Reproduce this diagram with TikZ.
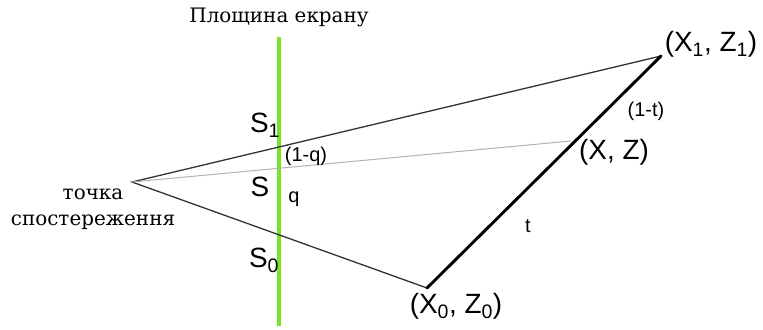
\documentclass[tikz,border=0pt]{standalone}
\usepackage{fontspec}
\setmainfont{DejaVu Serif}
\newfontfamily\labelfont{Liberation Sans}
\usepackage{tikz}
\usetikzlibrary{calc}

\definecolor{screengreen}{RGB}{122,226,40}

\begin{document}
\begin{tikzpicture}[
    x=1bp, y=-1bp,
    edge/.style={draw=black!80, line width=1.3bp},
    ray/.style={draw=black!30, line width=1bp},
    segment/.style={draw=black, line width=2.9bp},
    screen/.style={draw=screengreen, line width=3.6bp},
    lab/.style={font=\labelfont\fontsize{28}{30}\selectfont, inner sep=0pt},
    small/.style={font=\labelfont\fontsize{20}{22}\selectfont, inner sep=0pt},
    rus/.style={font=\fontsize{20}{26}\selectfont, inner sep=0pt, align=center}
]
\useasboundingbox (0,0) rectangle (763,329);

% points
\coordinate (eye) at (132,182);
\coordinate (p1) at (661,56);
\coordinate (p0) at (427,288);
\coordinate (p) at (571,141);
\coordinate (top) at (279,37);
\coordinate (bot) at (279,326);

% screen plane
\draw[screen] (top) -- (bot);

% triangle and ray
\draw[edge] (p0) -- (eye) -- (p1);
\draw[ray] (eye) -- (p);
\draw[segment, line cap=round] (p0) -- (p1);

% labels
\node[rus] (plane) at (279,17) {Площина екрану};
\node[rus] (view) at (93,209) {точка\\спостереження};

\node[lab] (s1) at (265,125) {S\textsubscript{1}};
\node[lab] (s) at (260,187) {S};
\node[lab] (s0) at (264,260) {S\textsubscript{0}};
\node[small] (oneq) at (306,156) {(1-q)};
\node[small] (q) at (294,199) {q};

\node[lab] (l1) at (711,44) {(X\textsubscript{1}, Z\textsubscript{1})};
\node[small] (onet) at (646,111) {(1-t)};
\node[lab] (l) at (614,152) {(X, Z)};
\node[small] (t) at (528,226) {t};
\node[lab] (l0) at (456,306) {(X\textsubscript{0}, Z\textsubscript{0})};
\end{tikzpicture}
\end{document}
